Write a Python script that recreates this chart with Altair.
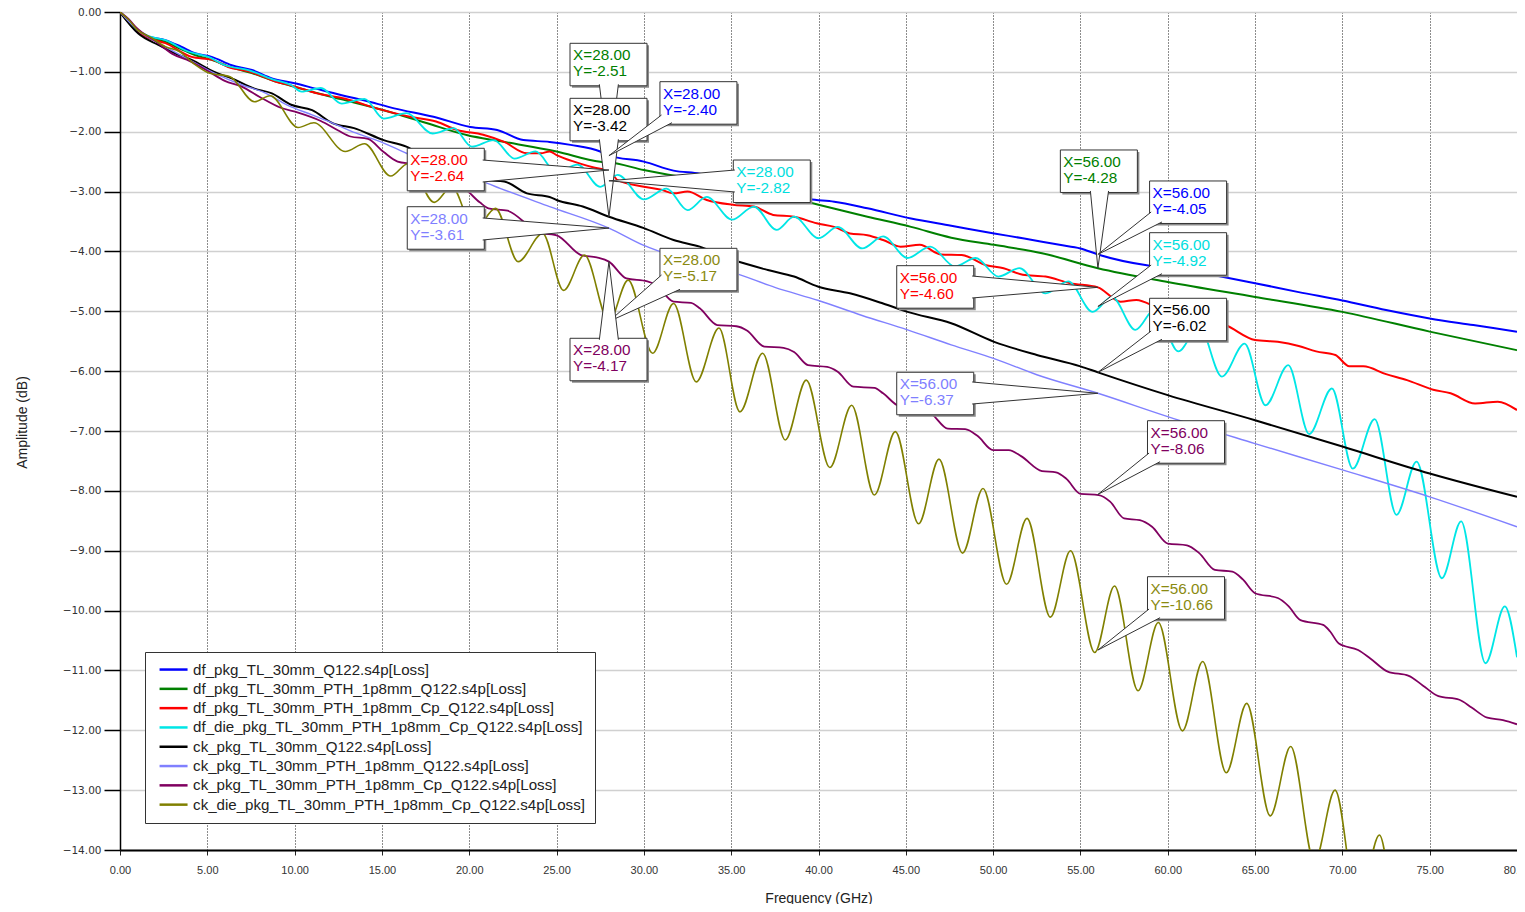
import altair as alt
import pandas as pd

# ---------------- data ----------------
names = [
    "df_pkg_TL_30mm_Q122.s4p[Loss]",
    "df_pkg_TL_30mm_PTH_1p8mm_Q122.s4p[Loss]",
    "df_pkg_TL_30mm_PTH_1p8mm_Cp_Q122.s4p[Loss]",
    "df_die_pkg_TL_30mm_PTH_1p8mm_Cp_Q122.s4p[Loss]",
    "ck_pkg_TL_30mm_Q122.s4p[Loss]",
    "ck_pkg_TL_30mm_PTH_1p8mm_Q122.s4p[Loss]",
    "ck_pkg_TL_30mm_PTH_1p8mm_Cp_Q122.s4p[Loss]",
    "ck_die_pkg_TL_30mm_PTH_1p8mm_Cp_Q122.s4p[Loss]",
]
colors = ["#0000ff", "#008000", "#ff0000", "#00e6e6", "#000000", "#8080ff", "#800060", "#808000"]
text_colors = ["#0000ff", "#008000", "#ff0000", "#00dede", "#000000", "#7f7fff", "#800060", "#8a8a10"]
widths = [2.0, 2.0, 2.0, 1.8, 2.0, 1.4, 1.8, 1.6]

blue_f = [0, 0.5, 0.86, 1.6, 2.6, 3.5, 4.3, 5.25, 6.4, 7.55, 8.7, 10.0, 11.2, 12.7, 13.9, 15.7, 17.95,
          20.06, 21.6, 23.1, 24.6, 25.8, 27.5, 28, 30.0, 31.7, 33.2, 35.0, 37.2, 39.5, 40.9, 42.8, 45.3,
          47.6, 50.06, 51.7, 53.8, 55.0, 56.0, 58.8, 60.5, 62.9, 65.0, 67.5, 70.0, 72.5, 75.0, 77.5, 80]
blue_db = [0, -0.15, -0.30, -0.41, -0.47, -0.58, -0.69, -0.75, -0.89, -0.97, -1.11, -1.19, -1.28, -1.39,
           -1.47, -1.61, -1.75, -1.92, -1.97, -2.14, -2.17, -2.22, -2.33, -2.40, -2.50, -2.65, -2.70,
           -2.82, -2.98, -3.13, -3.17, -3.28, -3.45, -3.57, -3.70, -3.78, -3.89, -3.95, -4.05, -4.23,
           -4.28, -4.41, -4.53, -4.68, -4.82, -4.98, -5.12, -5.23, -5.34]

green_f = [0, 0.9, 1.6, 2.6, 3.5, 4.3, 5.25, 6.4, 7.55, 8.7, 10.0, 11.2, 12.7, 15.1, 17.5, 19.9, 21.8,
           25.0, 27.5, 28, 30.0, 33.2, 35.0, 37.5, 40.0, 42.8, 45.3, 47.6, 50.06, 52.8, 56.0, 60.0, 65.0,
           70.0, 75.0, 80]
green_db = [0, -0.30, -0.42, -0.50, -0.62, -0.72, -0.80, -0.93, -1.02, -1.14, -1.25, -1.35, -1.46, -1.64,
            -1.85, -2.06, -2.16, -2.33, -2.50, -2.51, -2.64, -2.81, -2.91, -3.05, -3.22, -3.42, -3.59,
            -3.77, -3.89, -4.03, -4.28, -4.51, -4.76, -5.01, -5.34, -5.65]

red_f = [0, 0.9, 1.6, 2.6, 4.1, 5.3, 6.2, 7.45, 8.9, 9.7, 10.4, 11.3, 12.9, 14.7, 16.6, 18.1, 19.3, 20.8,
         22.0, 23.3, 24.1, 24.6, 25.0, 26.0, 27.5, 28, 28.5, 30.0, 31.0, 31.7, 32.5, 33.6, 35.1, 36.3,
         37.4, 38.6, 39.9, 40.9, 41.8, 42.8, 43.7, 44.7, 45.8, 47.0, 48.2, 49.6, 50.6, 51.7, 53.0, 54.4,
         56.0, 57.3, 58.2, 59.5, 60.8, 62.0, 63.3, 65.0, 66.3, 67.5, 68.5, 69.6, 70.4, 71.2, 72.5, 73.7,
         75.2, 76.2, 77.6, 78.9, 80]
red_db = [0, -0.30, -0.43, -0.52, -0.75, -0.80, -0.92, -1.00, -1.16, -1.22, -1.28, -1.36, -1.45, -1.61,
          -1.75, -1.83, -1.97, -2.05, -2.17, -2.36, -2.36, -2.33, -2.39, -2.50, -2.62, -2.64, -2.81,
          -2.92, -2.97, -3.03, -3.00, -3.14, -3.22, -3.25, -3.39, -3.42, -3.53, -3.59, -3.70, -3.73,
          -3.81, -3.92, -3.89, -4.05, -4.06, -4.23, -4.28, -4.39, -4.42, -4.53, -4.60, -4.84, -4.81,
          -4.95, -5.05, -5.12, -5.23, -5.48, -5.51, -5.58, -5.67, -5.73, -5.92, -5.92, -6.05, -6.15,
          -6.31, -6.37, -6.54, -6.51, -6.65]

cyan_f = [0, 0.9, 1.6, 2.6, 3.9, 5.06, 6.0, 7.35, 8.7, 9.8, 10.4, 11.5, 12.7, 14.0, 15.1, 16.4, 17.9,
          19.1, 20.15, 21.4, 22.6, 23.8, 25.0, 26.2, 27.5, 28.5, 30.0, 31.3, 32.5, 33.6, 35.05, 36.3,
          37.6, 38.6, 40.0, 41.1, 42.5, 43.7, 45.1, 46.4, 47.8, 49.0, 50.3, 51.5, 53.0, 54.3, 55.7, 56.8,
          58.15, 59.3, 60.6, 61.8, 63.1, 64.4, 65.6, 66.9, 68.1, 69.4, 70.6, 71.85, 73.1, 74.25, 75.7,
          76.8, 78.2, 79.3, 80]
cyan_db = [0, -0.28, -0.40, -0.47, -0.66, -0.75, -0.89, -0.97, -1.12, -1.22, -1.33, -1.27, -1.53, -1.45,
           -1.78, -1.69, -2.03, -1.94, -2.25, -2.14, -2.45, -2.33, -2.68, -2.55, -2.92, -2.72, -3.13,
           -2.95, -3.31, -3.09, -3.47, -3.25, -3.64, -3.42, -3.78, -3.59, -3.95, -3.75, -4.11, -3.92,
           -4.25, -4.11, -4.42, -4.28, -4.70, -4.50, -5.01, -4.76, -5.31, -4.95, -5.67, -5.25, -6.09,
           -5.54, -6.57, -5.90, -7.05, -6.29, -7.63, -6.80, -8.40, -7.51, -9.46, -8.51, -10.88, -9.93,
           -10.78]

black_f = [0, 1.05, 2.2, 3.15, 4.1, 5.4, 6.4, 7.7, 8.7, 9.8, 11.0, 12.2, 13.4, 15.1, 16.4, 17.6, 18.8,
           20.0, 21.0, 22.0, 23.3, 24.6, 25.0, 26.5, 28, 30, 31.7, 33.2, 35.1, 37.1, 38.6, 40, 41.8, 43.7,
           45.1, 47.6, 50.06, 52.5, 55, 56, 60, 65, 70, 75, 80]
black_db = [0, -0.36, -0.55, -0.69, -0.80, -1.00, -1.11, -1.28, -1.36, -1.55, -1.64, -1.86, -1.94, -2.14,
            -2.25, -2.45, -2.60, -2.72, -2.81, -2.83, -3.03, -3.09, -3.14, -3.25, -3.42, -3.61, -3.81,
            -3.92, -4.14, -4.31, -4.42, -4.59, -4.70, -4.87, -5.01, -5.20, -5.51, -5.73, -5.92, -6.02,
            -6.40, -6.82, -7.26, -7.71, -8.10]

lav_f = [0, 1.0, 2.2, 3.2, 4.1, 5.4, 7.0, 8.3, 9.55, 11.0, 12.2, 13.5, 15.1, 16.4, 18.0, 19.5, 21.0,
         21.8, 24.6, 28, 30, 32.5, 35.1, 37.5, 40, 42.5, 45.1, 47.6, 50.06, 52.5, 56, 60, 65, 70, 75, 80]
lav_db = [0, -0.30, -0.52, -0.68, -0.82, -1.02, -1.22, -1.35, -1.55, -1.72, -1.86, -2.02, -2.19, -2.36,
          -2.55, -2.72, -2.86, -2.95, -3.25, -3.61, -3.90, -4.15, -4.35, -4.60, -4.82, -5.07, -5.31,
          -5.56, -5.79, -6.06, -6.37, -6.76, -7.21, -7.65, -8.10, -8.60]

purple_f = [0, 0.5, 1.0, 2.0, 3.0, 4.0, 5.0, 6.0, 7.0, 8.0, 9.2, 10.2, 11.5, 12.5, 13.2, 14.2, 15.1, 15.9,
            16.9, 18.0, 18.6, 19.6, 20.6, 21.1, 22.2, 23.1, 23.7, 25.0, 26.4, 27.3, 28.0, 29.0, 30.2,
            30.7, 31.7, 32.7, 33.2, 34.2, 35.3, 35.9, 36.9, 38.0, 38.6, 39.4, 40.5, 41.1, 42.0, 43.2,
            43.7, 44.6, 45.8, 46.5, 47.4, 48.4, 49.1, 50.0, 50.9, 51.6, 52.8, 53.6, 54.2, 55.0, 56.05,
            56.7, 57.5, 58.4, 59.1, 60.0, 61.1, 61.8, 62.7, 63.7, 64.3, 65.0, 66.3, 66.9, 67.6, 68.9,
            69.3, 69.8, 70.9, 71.6, 72.6, 73.8, 74.6, 75.5, 76.7, 77.4, 78.3, 79.2, 80]
purple_db = [0, -0.12, -0.28, -0.48, -0.70, -0.82, -0.98, -1.15, -1.25, -1.42, -1.60, -1.68, -1.82, -1.98,
             -2.08, -2.12, -2.34, -2.50, -2.55, -2.78, -2.90, -2.94, -3.18, -3.28, -3.32, -3.50, -3.68,
             -3.73, -4.06, -4.10, -4.17, -4.45, -4.50, -4.56, -4.84, -4.86, -4.95, -5.23, -5.25, -5.32,
             -5.59, -5.61, -5.68, -5.90, -5.93, -6.01, -6.26, -6.28, -6.37, -6.58, -6.62, -6.72, -6.96,
             -6.97, -7.08, -7.32, -7.32, -7.42, -7.67, -7.69, -7.80, -8.05, -8.07, -8.18, -8.46, -8.49,
             -8.60, -8.88, -8.91, -9.04, -9.32, -9.35, -9.48, -9.71, -9.79, -9.92, -10.16, -10.24,
             -10.35, -10.55, -10.66, -10.80, -11.02, -11.09, -11.25, -11.43, -11.49, -11.62, -11.79,
             -11.83, -11.90]

olive_f = [0, 0.5, 1.0, 1.8, 2.6, 3.4, 4.3, 5.1, 6.3, 7.7, 8.6, 10.2, 11.1, 12.9, 14.0, 15.5, 16.5, 18.0,
           19.0, 20.3, 21.5, 22.8, 24.2, 25.4, 26.6, 28.0, 29.1, 30.5, 31.7, 33.0, 34.3, 35.5, 36.8,
           38.1, 39.3, 40.65, 41.9, 43.2, 44.4, 45.73, 46.9, 48.25, 49.42, 50.77, 51.94, 53.28, 54.43,
           55.82, 56.95, 58.3, 59.46, 60.84, 62.0, 63.35, 64.52, 65.87, 67.04, 68.4, 69.58, 70.9, 72.12,
           73.4, 74.6, 76.0, 77.2, 78.5, 79.7, 80]
olive_db = [0, -0.13, -0.30, -0.43, -0.58, -0.66, -0.88, -1.02, -1.08, -1.50, -1.40, -1.93, -1.85, -2.33,
            -2.20, -2.74, -2.53, -3.18, -2.92, -3.65, -3.28, -4.17, -3.70, -4.65, -4.06, -5.17, -4.48,
            -5.70, -4.87, -6.18, -5.28, -6.68, -5.70, -7.15, -6.15, -7.61, -6.57, -8.07, -7.01, -8.55,
            -7.47, -9.04, -7.96, -9.56, -8.46, -10.11, -9.00, -10.70, -9.59, -11.34, -10.20, -12.01,
            -10.85, -12.71, -11.55, -13.43, -12.27, -14.20, -13.00, -15.00, -13.75, -15.80, -14.50,
            -16.60, -15.30, -17.50, -16.10, -16.40]

series_f = [blue_f, green_f, red_f, cyan_f, black_f, lav_f, purple_f, olive_f]
series_db = [blue_db, green_db, red_db, cyan_db, black_db, lav_db, purple_db, olive_db]

# marker callouts: series index, marker X, marker Y, box left (GHz), box top (dB),
# wedge base points on the box edge (GHz, dB)
BOX_W = 4.41
BOX_H = 0.71
callouts = [
    (1, 28, -2.51, 25.77, -0.523, (27.45, -1.233), (28.54, -1.233)),
    (4, 28, -3.42, 25.77, -1.442, (27.45, -2.152), (28.54, -2.152)),
    (0, 28, -2.40, 30.92, -1.164, (30.92, -1.721), (31.61, -1.874)),
    (3, 28, -2.82, 35.12, -2.473, (35.12, -2.640), (35.12, -3.007)),
    (2, 28, -2.64, 16.45, -2.277, (20.86, -2.473), (20.86, -2.840)),
    (5, 28, -3.61, 16.45, -3.253, (20.86, -3.441), (20.86, -3.809)),
    (7, 28, -5.17, 30.92, -3.948, (30.92, -4.394), (32.07, -4.658)),
    (6, 28, -4.17, 25.77, -5.451, (27.45, -5.451), (28.54, -5.451)),
    (1, 56, -4.28, 53.85, -2.305, (55.57, -3.015), (56.61, -3.015)),
    (0, 56, -4.05, 58.96, -2.823, (58.96, -3.341), (59.67, -3.533)),
    (3, 56, -4.92, 58.96, -3.687, (58.96, -4.227), (59.67, -4.397)),
    (4, 56, -6.02, 58.96, -4.783, (58.96, -5.329), (59.67, -5.493)),
    (6, 56, -8.06, 58.84, -6.828, (58.84, -7.368), (59.56, -7.538)),
    (7, 56, -10.66, 58.84, -9.434, (58.84, -9.974), (59.56, -10.144)),
    (2, 56, -4.60, 44.48, -4.238, (48.89, -4.411), (48.89, -4.778)),
    (5, 56, -6.37, 44.48, -6.019, (48.89, -6.181), (48.89, -6.549)),
]

# ---------------- tables ----------------
rows = []
for i, (fs, ds) in enumerate(zip(series_f, series_db)):
    for f, d in zip(fs, ds):
        rows.append({"series": names[i], "f": f, "db": d})
df = pd.DataFrame(rows)

NX = 0.09   # ~1.5 px in GHz
NY = 0.025  # ~1.5 px in dB


def nudge(p, bx, by):
    f, d = p
    if abs(f - bx) < 0.02:
        f += NX
    elif abs(f - (bx + BOX_W)) < 0.02:
        f -= NX
    if abs(d - by) < 0.02:
        d -= NY
    elif abs(d - (by - BOX_H)) < 0.02:
        d += NY
    return (f, d)


box_rows, wedge_rows = [], []
for k, (si, mx, my, bx, by, b1, b2) in enumerate(callouts):
    box_rows.append({"id": k, "x0": bx, "x1": bx + BOX_W, "y0": by, "y1": by - BOX_H,
                     "label": f"X={mx:.2f}\nY={my:.2f}", "hex": text_colors[si]})
    pts = [nudge(b1, bx, by), (mx, my), nudge(b2, bx, by)]
    for j, (wf, wd) in enumerate(pts):
        wedge_rows.append({"id": k, "k": j, "f": wf, "db": wd})
boxes = pd.DataFrame(box_rows)
wedges = pd.DataFrame(wedge_rows)

# ---------------- scales / axes ----------------
FONT = "Liberation Sans"
xscale = alt.Scale(domain=[0, 80], nice=False, zero=False)
yscale = alt.Scale(domain=[-14, 0], nice=False, zero=False)
xaxis = alt.Axis(values=list(range(0, 81, 5)), format=".2f", title="Frequency (GHz)",
                 grid=True, gridColor="#1a1a1a", gridDash=[1, 2], gridWidth=1,
                 domainColor="#000000", domainWidth=2, tickColor="#222222", tickSize=5,
                 tickWidth=1, labelFont=FONT, labelFontSize=11, labelColor="#333333",
                 labelPadding=9, labelFlush=False, titleFont=FONT, titleFontSize=14,
                 titleFontWeight="normal", titleColor="#222222", titleY=52,
                 titleBaseline="alphabetic")
yaxis = alt.Axis(values=list(range(-14, 1)), format=".2f", title="Amplitude (dB)",
                 grid=True, gridColor="#d0d0d0", gridWidth=1.5,
                 domainColor="#000000", domainWidth=1.5, tickColor="#000000", tickSize=16,
                 tickWidth=1.5, labelFont="DejaVu Sans", labelFontSize=10.5, labelColor="#333333",
                 labelPadding=3, labelFlush=False, titleFont=FONT, titleFontSize=14,
                 titleFontWeight="normal", titleColor="#222222", titleX=-98, titleY=410,
                 titleAngle=270, titleAlign="center", titleBaseline="middle")

# custom stroke symbol: a 28 px line drawn from a small (10 px) symbol slot
legend = alt.Legend(title=None, orient="none", legendX=25, legendY=640, direction="vertical",
                    fillColor="white", strokeColor="#333333", padding=10,
                    symbolType="M-0.6,0H5.0", symbolSize=100, symbolStrokeWidth=2.5,
                    symbolFillColor="transparent",
                    labelFont=FONT, labelFontSize=15.1, labelColor="#222222", rowPadding=3.3,
                    labelLimit=0, labelOffset=23)

cscale = alt.Scale(domain=names, range=colors)


def xenc(field):
    return alt.X(field, scale=xscale, axis=xaxis)


def yenc(field):
    return alt.Y(field, scale=yscale, axis=yaxis)


layers = []
for i, name in enumerate(names):
    layers.append(
        alt.Chart(df[df.series == name]).mark_line(
            interpolate="monotone", clip=True, strokeWidth=widths[i]
        ).encode(
            x=xenc("f:Q"), y=yenc("db:Q"),
            color=alt.Color("series:N", scale=cscale, legend=legend),
        )
    )

# callouts: each one drawn as a unit (shadow, box, wedge, text) so later ones cover earlier ones
for k in range(len(callouts)):
    bsub = boxes[boxes.id == k]
    wsub = wedges[wedges.id == k]
    layers.append(alt.Chart(bsub).mark_rect(
        fill="#8a8a8a", xOffset=2, x2Offset=2, yOffset=2, y2Offset=2).encode(
        x=xenc("x0:Q"), x2="x1:Q", y=yenc("y0:Q"), y2="y1:Q"))
    layers.append(alt.Chart(bsub).mark_rect(fill="white", stroke="#333333", strokeWidth=1).encode(
        x=xenc("x0:Q"), x2="x1:Q", y=yenc("y0:Q"), y2="y1:Q"))
    layers.append(alt.Chart(wsub).mark_line(fill="white", stroke="#333333", strokeWidth=1).encode(
        x=xenc("f:Q"), y=yenc("db:Q"), order="k:Q"))
    layers.append(alt.Chart(bsub).mark_text(
        align="left", baseline="top", dx=3, dy=5, font=FONT, fontSize=15.3,
        lineBreak="\n", lineHeight=16).encode(
        x=xenc("x0:Q"), y=yenc("y0:Q"), text="label:N", color=alt.Color("hex:N", scale=None)))

chart = alt.layer(*layers).properties(
    width=1397, height=838,
    autosize=alt.AutoSizeParams(type="none"),
    padding={"left": 112, "top": 4, "right": 0, "bottom": 54},
    background="white",
).configure_view(strokeOpacity=0)

chart.save("out.html", embed_options={"renderer": "svg", "actions": False})
